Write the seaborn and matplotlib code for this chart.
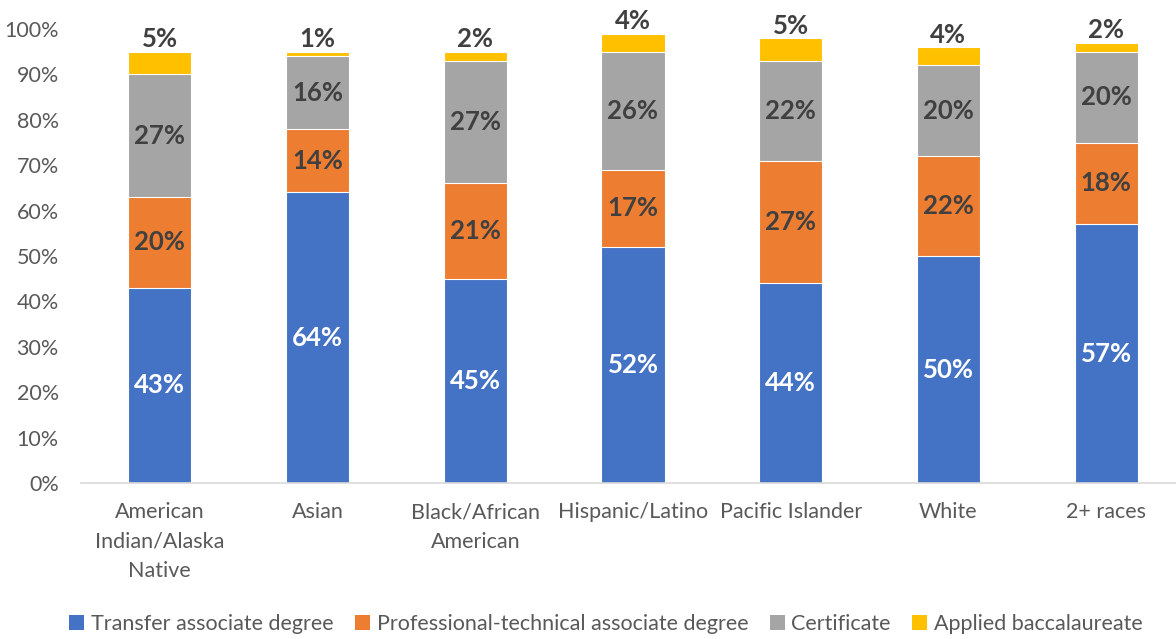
import matplotlib
matplotlib.use("Agg")
import matplotlib.pyplot as plt
import seaborn as sns
import numpy as np
import pandas as pd
from matplotlib.patches import Patch

categories = ["American\nIndian/Alaska\nNative", "Asian", "Black/African\nAmerican",
              "Hispanic/Latino", "Pacific Islander", "White", "2+ races"]
series_names = ["Transfer associate degree", "Professional-technical associate degree",
                "Certificate", "Applied baccalaureate"]
transfer = [43, 64, 45, 52, 44, 50, 57]
prof_tech = [20, 14, 21, 17, 27, 22, 18]
certificate = [27, 16, 27, 26, 22, 20, 20]
applied = [5, 1, 2, 4, 5, 4, 2]
y_ticks = list(range(0, 101, 10))

colors = ["#4472C4", "#ED7D31", "#A5A5A5", "#FFC000"]
label_colors = ["white", "#404040", "#404040", "#404040"]

sns.set_style("white")
plt.rcParams["font.family"] = ["Lato", "DejaVu Sans"]

layers = [transfer, prof_tech, certificate, applied]
df = pd.DataFrame({"cat": categories})
cum = np.zeros(len(categories))
for name, vals in zip(series_names, layers):
    cum = cum + np.array(vals)
    df[name] = cum.copy()

fig = plt.figure(figsize=(11.76, 6.39), dpi=100)
ax = fig.add_axes([81 / 1176, 156 / 639, 1104 / 1176, 454 / 639])

# draw cumulative totals from the top layer down so each series sits on the one below
for name, col in reversed(list(zip(series_names, colors))):
    sns.barplot(data=df, x="cat", y=name, color=col, width=0.4, ax=ax,
                saturation=1, edgecolor="white", linewidth=0.8, order=categories)

# data labels
for i in range(len(categories)):
    bottom = 0
    for k, vals in enumerate(layers):
        v = vals[i]
        if k == 3:
            ax.annotate(f"{v}%", (i, bottom + v), xytext=(0, 9), textcoords="offset points",
                        ha="center", va="center", fontsize=18.5, fontweight="bold",
                        color=label_colors[k])
        else:
            ax.text(i, bottom + v / 2, f"{v}%", ha="center", va="center",
                    fontsize=18.5, fontweight="bold", color=label_colors[k])
        bottom += v

ax.set_xlim(-0.5, len(categories) - 0.5)
ax.set_ylim(0, 100)
ax.set_yticks(y_ticks)
ax.set_yticklabels([f"{t}%" for t in y_ticks])
ax.set_xlabel("")
ax.set_ylabel("")
for s in ["top", "right", "left"]:
    ax.spines[s].set_visible(False)
ax.spines["bottom"].set_color("#D9D9D9")
ax.spines["bottom"].set_linewidth(1.2)
ax.tick_params(axis="y", length=0, pad=16, labelsize=15.5, labelcolor="#595959")
ax.tick_params(axis="x", length=0, pad=14, labelsize=15.5, labelcolor="#595959")
for lab in ax.get_xticklabels():
    lab.set_linespacing(1.58)
    lab.set_verticalalignment("top")

handles = [Patch(facecolor=c, edgecolor="none") for c in colors]
fig.legend(handles, series_names, loc="center", bbox_to_anchor=(606 / 1176, 1 - 624 / 639),
           ncol=4, frameon=False, fontsize=15.5, labelcolor="#595959",
           handlelength=0.7, handleheight=0.7, handletextpad=0.3, columnspacing=1.0)

fig.savefig("out.png", dpi=100)
